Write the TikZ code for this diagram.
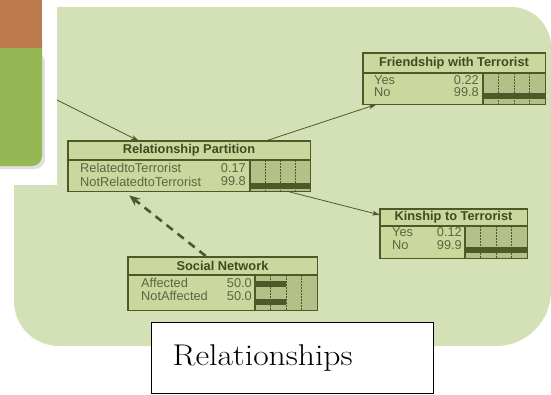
\documentclass[tikz,border=0pt]{standalone}
\usepackage{fontspec}
\usepackage{tikz}
\usetikzlibrary{calc,arrows.meta}
\newfontfamily\netfont{Liberation Sans}
\newfontfamily\capfont[FakeStretch=1.12]{Latin Modern Roman}
\definecolor{panel}{HTML}{D4E1B7}
\definecolor{cptbg}{HTML}{CCD79D}
\definecolor{barbg}{HTML}{B5C089}
\definecolor{olive}{HTML}{4B5A28}
\definecolor{ink}{HTML}{3F4A22}
\definecolor{rust}{HTML}{BC7A4C}
\definecolor{leaf}{HTML}{94B854}
\tikzset{
  cpt/.style={fill=cptbg, anchor=north west, inner sep=0pt},
  rule/.style={draw=olive, line width=1.2pt},
  meter/.style={fill=barbg},
  tick/.style={draw=olive, dash pattern=on 1.5pt off 1.5pt, line width=0.5pt},
  bar/.style={fill=olive},
  ttl/.style={font=\netfont\bfseries\fontsize{12.8}{14}\selectfont, text=ink, inner sep=0pt},
  lbl/.style={font=\netfont\fontsize{12.8}{14}\selectfont, text=ink!85, anchor=west, inner sep=0pt},
  num/.style={lbl, anchor=east},
  link/.style={draw=olive, line width=0.8pt, -{Stealth[length=8pt,width=5pt]}},
  hint/.style={draw=olive, line width=2.6pt, dash pattern=on 8pt off 6pt, -{Stealth[length=11pt,width=9pt]}},
  capbox/.style={draw=black, line width=1.3pt, fill=white, anchor=north west,
    minimum width=282pt, minimum height=71pt, text width=240pt, inner xsep=21pt, align=left,
    font=\capfont\fontsize{30}{34}\selectfont}
}

\begin{document}
\begin{tikzpicture}[x=1pt,y=-1pt]
  \useasboundingbox (0,0) rectangle (551,394);
  \fill[white] (0,0) rectangle (551,394);
  \fill[panel] (57,7) [rounded corners=40pt] -- (551,7) [rounded corners=55pt] -- (551,346)
    [rounded corners=45pt] -- (14,346) [sharp corners] -- (14,185) -- (57,185) -- cycle;

  \fill[black!12, rounded corners=10pt] (-12,52) rectangle (45,169);
  \fill[leaf, rounded corners=10pt] (-12,30) rectangle (42,166);
  \fill[rust] (0,0) rectangle (42,48);
  \coordinate (src) at (57,100);

  % Friendship with Terrorist
  \node[cpt, minimum width=182pt, minimum height=51pt] (friend) at (363,53) {};
  \fill[meter] (483,73) rectangle (545,104);
  \foreach \f in {0.25,0.5,0.75} \draw[tick] ({483+62*\f},73) -- ({483+62*\f},104);
  \fill[bar] (483,93) rectangle (545,99);
  \draw[rule] (363,73) -- (545,73) (483,73) -- (483,104);
  \draw[rule] (friend.north west) rectangle (friend.south east);
  \node[ttl] (friend-t) at (454,63) {Friendship with Terrorist};
  \node[lbl] (friend-y) at (374,80.5) {Yes};
  \node[num] (friend-yv) at (479,80.5) {0.22};
  \node[lbl] (friend-n) at (374,92.5) {No};
  \node[num] (friend-nv) at (479,92.5) {99.8};

  % Relationship Partition
  \node[cpt, minimum width=242pt, minimum height=50pt] (part) at (68,141) {};
  \fill[meter] (250,160) rectangle (310,191);
  \foreach \f in {0.25,0.5,0.75} \draw[tick] ({250+60*\f},160) -- ({250+60*\f},191);
  \fill[bar] (250,183) rectangle (310,189);
  \draw[rule] (68,160) -- (310,160) (250,160) -- (250,191);
  \draw[rule] (part.north west) rectangle (part.south east);
  \node[ttl] (part-t) at (189,150.5) {Relationship Partition};
  \node[lbl] (part-r) at (80,168) {RelatedtoTerrorist};
  \node[num] (part-rv) at (246,168) {0.17};
  \node[lbl] (part-n) at (80,181.5) {NotRelatedtoTerrorist};
  \node[num] (part-nv) at (246,181.5) {99.8};

  % Kinship to Terrorist
  \node[cpt, minimum width=147pt, minimum height=49pt] (kin) at (380,209) {};
  \fill[meter] (465,226) rectangle (527,258);
  \foreach \f in {0.25,0.5,0.75} \draw[tick] ({465+62*\f},226) -- ({465+62*\f},258);
  \fill[bar] (465,246.5) rectangle (527,252.5);
  \draw[rule] (380,226) -- (527,226) (465,226) -- (465,258);
  \draw[rule] (kin.north west) rectangle (kin.south east);
  \node[ttl] (kin-t) at (453.5,217.5) {Kinship to Terrorist};
  \node[lbl] (kin-y) at (392,232.5) {Yes};
  \node[num] (kin-yv) at (462,232.5) {0.12};
  \node[lbl] (kin-n) at (392,245.5) {No};
  \node[num] (kin-nv) at (462,245.5) {99.9};

  % Social Network
  \node[cpt, minimum width=189pt, minimum height=53pt] (social) at (128,257) {};
  \fill[meter] (255,275) rectangle (317,310);
  \foreach \f in {0.25,0.5,0.75} \draw[tick] ({255+62*\f},275) -- ({255+62*\f},310);
  \fill[bar] (255,281) rectangle (286,287);
  \fill[bar] (255,299) rectangle (286,305);
  \draw[rule] (128,275) -- (317,275) (255,275) -- (255,310);
  \draw[rule] (social.north west) rectangle (social.south east);
  \node[ttl] (social-t) at (222.5,266) {Social Network};
  \node[lbl] (social-a) at (141,283) {Affected};
  \node[num] (social-av) at (252,283) {50.0};
  \node[lbl] (social-n) at (141,296) {NotAffected};
  \node[num] (social-nv) at (252,296) {50.0};

  \draw[link] (src) -- (part);
  \draw[link] (part) -- (friend);
  \draw[link] (part) -- (kin);
  \draw[hint] ($(social.north)+(-17,-1)$) -- ($(part.south)+(-60,4)$);

  \node[capbox] (caption) at (151,322) {Relationships};
\end{tikzpicture}
\end{document}
